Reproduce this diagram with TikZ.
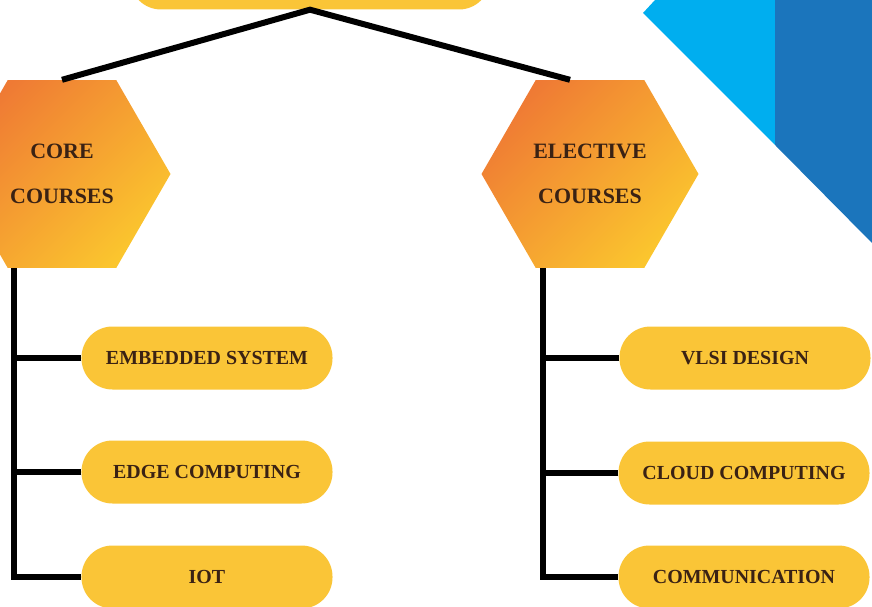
\documentclass[tikz,border=0pt]{standalone}
\usepackage{fontspec}
\setmainfont{Liberation Serif}
\usepackage{xcolor}
\usepackage{tikz}
\usetikzlibrary{positioning, shapes.geometric}
\definecolor{hexorange}{RGB}{239,122,52}
\definecolor{hexyellow}{RGB}{251,198,46}
\definecolor{pillyellow}{RGB}{250,197,55}
\definecolor{textbrown}{RGB}{58,34,20}
\definecolor{lightblue}{RGB}{0,174,239}
\definecolor{darkblue}{RGB}{27,117,188}

\begin{document}
\begin{tikzpicture}[x=1bp, y=-1bp,
    hexnode/.style={regular polygon, regular polygon sides=6, minimum size=217bp, inner sep=0pt,
      top color=hexorange, bottom color=hexyellow, shading angle=45,
      text=textbrown, font=\fontsize{22}{45}\selectfont\bfseries, align=center},
    pill/.style={rounded corners=31bp, fill=pillyellow, minimum width=251bp, minimum height=63bp,
      text=textbrown, font=\fontsize{20}{24}\selectfont\bfseries},
    conn/.style={line width=6bp, black}]
  \useasboundingbox (0,0) rectangle (872,607);

  % Corner
  \fill[lightblue] (655,0) -- (643,13) -- (775,145) -- (775,0) -- cycle;
  \fill[darkblue] (775,0) -- (775,145) -- (872,243) -- (872,0) -- cycle;

  % Root (cut off at the top)
  \node[pill, minimum width=360bp] (root) at (310,-22) {};

  % Hexagons
  \node[hexnode] (core) at (62,174) {CORE\\COURSES};
  \node[hexnode] (elective) at (590,174) {ELECTIVE\\COURSES};
  \draw[conn] (core.north) -- (root.south) -- ([xshift=-20bp]elective.north);

  % Core courses
  \node[pill] (embedded) at (207,358) {EMBEDDED SYSTEM};
  \node[pill] (edge) at (207,472) {EDGE COMPUTING};
  \node[pill] (iot) at (207,577) {IOT};
  \coordinate (ltrunk) at ([xshift=-48bp]core.south);
  \draw[conn] (ltrunk) |- (iot.west);
  \draw[conn] (embedded.west) -- (embedded.west -| ltrunk);
  \draw[conn] (edge.west) -- (edge.west -| ltrunk);

  % Elective courses
  \node[pill] (vlsi) at (745,358) {VLSI DESIGN};
  \node[pill] (cloud) at (744,473) {CLOUD COMPUTING};
  \node[pill] (comm) at (744,577) {COMMUNICATION};
  \coordinate (rtrunk) at ([xshift=-47bp]elective.south);
  \draw[conn] (rtrunk) |- (comm.west);
  \draw[conn] (vlsi.west) -- (vlsi.west -| rtrunk);
  \draw[conn] (cloud.west) -- (cloud.west -| rtrunk);
\end{tikzpicture}
\end{document}
